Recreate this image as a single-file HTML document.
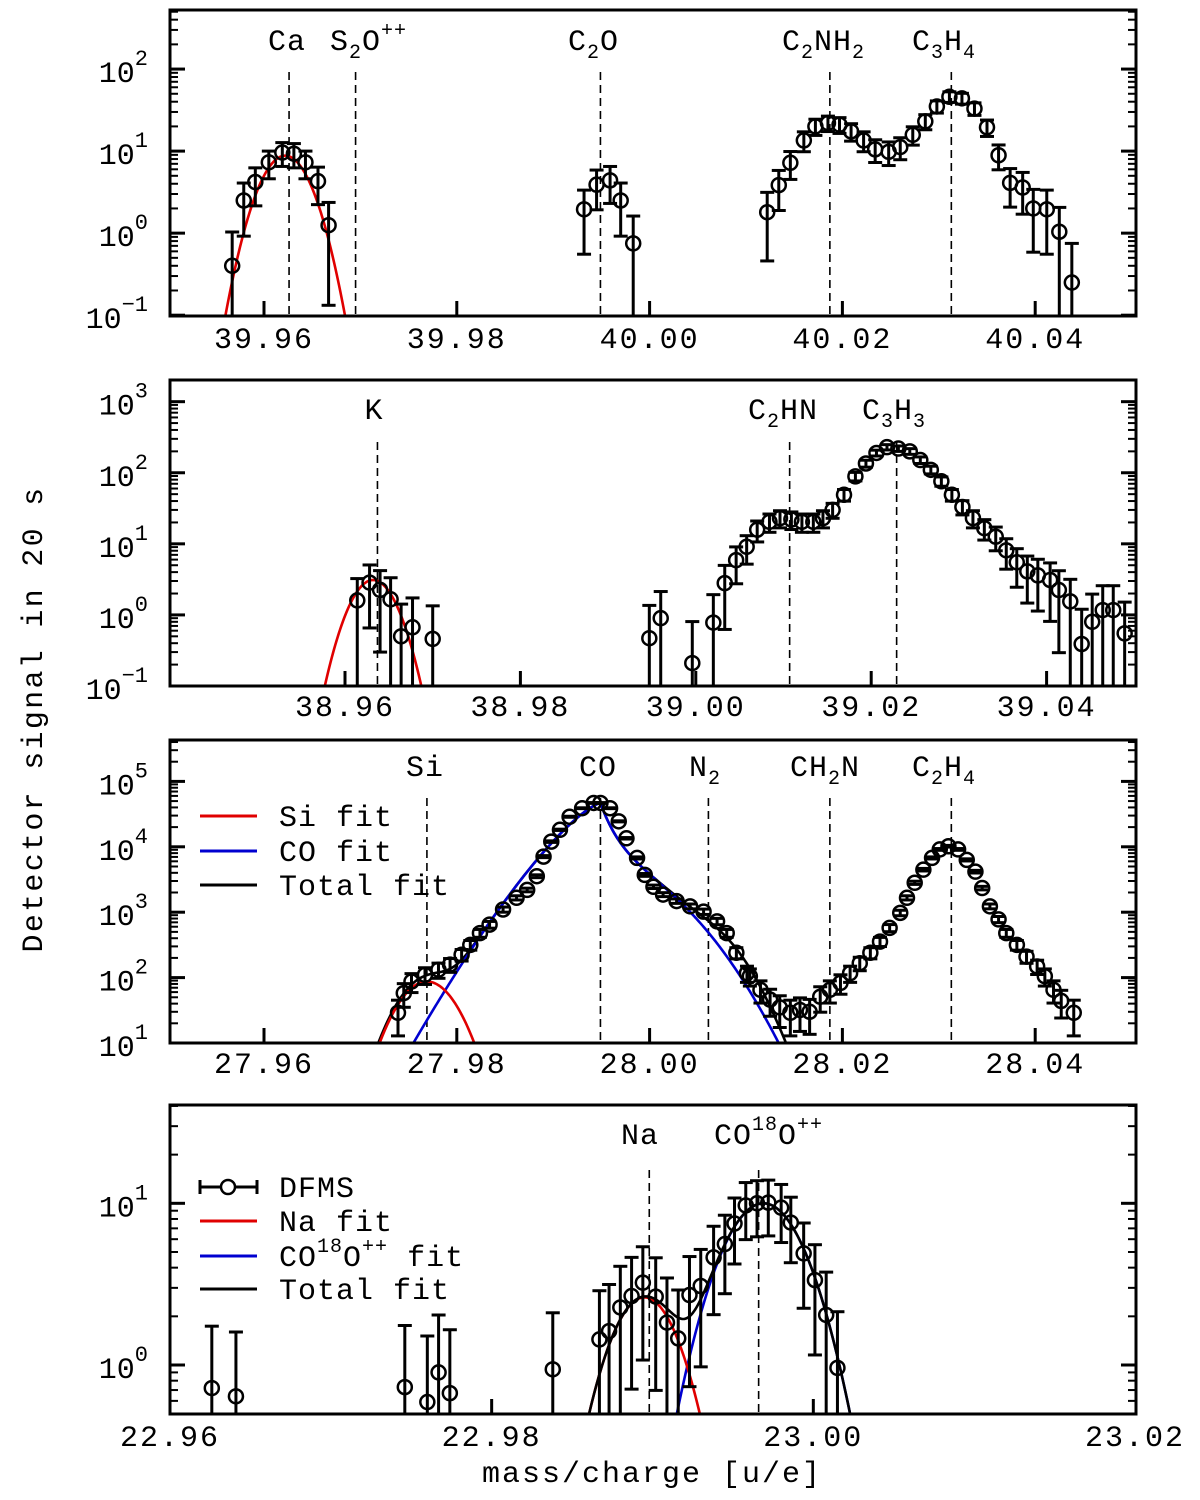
<!DOCTYPE html>
<html>
<head>
<meta charset="utf-8">
<style>
  html,body{margin:0;padding:0;background:#fff;width:1200px;height:1500px;overflow:hidden;}
  svg{display:block;}
  text{font-family:"Liberation Mono","DejaVu Sans Mono",monospace;fill:#000;}
</style>
</head>
<body>
<svg id="chart" width="1200" height="1500" viewBox="0 0 1200 1500" xmlns="http://www.w3.org/2000/svg">
  <defs>
    <clipPath id="clip0"><rect x="170" y="10" width="966" height="306"/></clipPath>
    <clipPath id="clip1"><rect x="170" y="380" width="966" height="306"/></clipPath>
    <clipPath id="clip2"><rect x="170" y="740" width="966" height="303"/></clipPath>
    <clipPath id="clip3"><rect x="170" y="1105" width="966" height="309"/></clipPath>
  </defs>
  <rect x="0" y="0" width="1200" height="1500" fill="#fff"/>
  <g id="layer"></g>

  <text x="32" y="729" transform="rotate(-90 32 719)" text-anchor="middle" font-size="30" letter-spacing="2.3">Detector signal in 20 s</text>
  <text x="652" y="1482" text-anchor="middle" font-size="30" letter-spacing="2">mass/charge [u/e]</text>

  <g font-size="30" letter-spacing="1">
    <text x="287" y="50" text-anchor="middle">Ca</text>
    <text x="330" y="50">S<tspan font-size="20" dy="8">2</tspan><tspan dy="-8">O</tspan><tspan font-size="20" dy="-14">++</tspan></text>
    <text x="568" y="50">C<tspan font-size="20" dy="8">2</tspan><tspan dy="-8">O</tspan></text>
    <text x="782" y="50">C<tspan font-size="20" dy="8">2</tspan><tspan dy="-8">NH</tspan><tspan font-size="20" dy="8">2</tspan></text>
    <text x="912" y="50">C<tspan font-size="20" dy="8">3</tspan><tspan dy="-8">H</tspan><tspan font-size="20" dy="8">4</tspan></text>
  </g>
  <g font-size="30" letter-spacing="1">
    <text x="374" y="419" text-anchor="middle">K</text>
    <text x="748" y="419">C<tspan font-size="20" dy="8">2</tspan><tspan dy="-8">HN</tspan></text>
    <text x="862" y="419">C<tspan font-size="20" dy="8">3</tspan><tspan dy="-8">H</tspan><tspan font-size="20" dy="8">3</tspan></text>
  </g>
  <g font-size="30" letter-spacing="1">
    <text x="425" y="776" text-anchor="middle">Si</text>
    <text x="598" y="776" text-anchor="middle">CO</text>
    <text x="689" y="776">N<tspan font-size="20" dy="8">2</tspan></text>
    <text x="790" y="776">CH<tspan font-size="20" dy="8">2</tspan><tspan dy="-8">N</tspan></text>
    <text x="912" y="776">C<tspan font-size="20" dy="8">2</tspan><tspan dy="-8">H</tspan><tspan font-size="20" dy="8">4</tspan></text>
  </g>
  <g font-size="30" letter-spacing="1">
    <text x="640" y="1144" text-anchor="middle">Na</text>
    <text x="714" y="1144">CO<tspan font-size="20" dy="-14">18</tspan><tspan dy="14">O</tspan><tspan font-size="20" dy="-14">++</tspan></text>
  </g>

  <g font-size="30" letter-spacing="1">
    <line x1="200" y1="816" x2="257" y2="816" stroke="#e00000" stroke-width="3"/>
    <text x="279" y="826">Si fit</text>
    <line x1="200" y1="851" x2="257" y2="851" stroke="#0000d0" stroke-width="3"/>
    <text x="279" y="861">CO fit</text>
    <line x1="200" y1="885" x2="257" y2="885" stroke="#000" stroke-width="3"/>
    <text x="279" y="895">Total fit</text>
  </g>
  <g font-size="30" letter-spacing="1">
    <g stroke="#000" stroke-width="3" fill="none">
      <line x1="200" y1="1187" x2="257" y2="1187"/>
      <line x1="200" y1="1180" x2="200" y2="1194"/>
      <line x1="257" y1="1180" x2="257" y2="1194"/>
      <circle cx="228" cy="1187" r="7" fill="#fff" stroke-width="2.5"/>
    </g>
    <text x="279" y="1197">DFMS</text>
    <line x1="200" y1="1221" x2="257" y2="1221" stroke="#e00000" stroke-width="3"/>
    <text x="279" y="1231">Na fit</text>
    <line x1="200" y1="1256" x2="257" y2="1256" stroke="#0000d0" stroke-width="3"/>
    <text x="279" y="1266">CO<tspan font-size="20" dy="-14">18</tspan><tspan dy="14">O</tspan><tspan font-size="20" dy="-14">++</tspan><tspan dy="14"> fit</tspan></text>
    <line x1="200" y1="1289" x2="257" y2="1289" stroke="#000" stroke-width="3"/>
    <text x="279" y="1299">Total fit</text>
  </g>
</svg>

<script>
// ---------------- DATA ----------------
const p1Mass = [39.9567,39.9579,39.9591,39.9605,39.9619,39.9631,39.9643,39.9656,39.9667,
  39.9932,39.9945,39.9959,39.9970,39.9983,
  40.0122,40.0134,40.0146,40.0160,40.0172,40.0185,40.0197,40.0209,40.0222,40.0234,40.0248,40.0260,40.0273,
  40.0286,40.0298,40.0311,40.0324,40.0337,40.0350,40.0362,40.0374,40.0387,40.0398,40.0412,40.0425,40.0438];
const p1Values = [0.40,2.5,4.2,7.3,9.6,9.3,7.3,4.3,1.25,
  1.95,3.9,4.4,2.5,0.75,
  1.8,3.85,7.2,13.5,20,22,21,17.4,13.5,10.5,9.8,11.2,15.8,
  23,35,46,44,33,19.5,8.9,4.1,3.6,2.0,1.95,1.04,0.25];
const p1Lines = [39.9626,39.9695,39.9949,40.0187,40.0313];
const p1Ticks = [39.96,39.98,40.00,40.02,40.04];
const p1TickLabels = ["39.96","39.98","40.00","40.02","40.04"];
const p1CaFit = [8.8,39.9622,0.00207];

const p2Mass = [38.9614,38.9628,38.9640,38.9652,38.9664,38.9677,38.9700,
  38.9947,38.9960,38.9996,39.0020,39.0033,39.0046,39.0058,39.0070,39.0084,39.0096,39.0109,39.0121,39.0134,
  39.0145,39.0156,39.0169,39.0182,39.0194,39.0206,39.0218,39.0231,39.0244,39.0256,39.0268,39.0280,39.0292,
  39.0304,39.0316,39.0329,39.0342,39.0354,39.0366,39.0378,39.0390,39.0404,39.0414,39.0427,39.0440,39.0452,
  39.0464,39.0476,39.0489];
const p2Values = [1.6,2.85,2.25,1.66,0.5,0.67,0.46,
  0.47,0.9,0.21,0.78,2.8,5.9,9.1,15.8,20.4,23,22,20.4,20.4,
  23,30,49,89,135,190,229,219,200,151,110,76,49,
  33,23,16.6,12.6,8.1,5.5,4.1,3.6,3.1,2.24,1.55,0.39,0.8,
  1.17,1.17,0.55];
const p2Lines = [38.9637,39.0107,39.0229];
const p2Ticks = [38.96,38.98,39.00,39.02,39.04];
const p2TickLabels = ["38.96","38.98","39.00","39.02","39.04"];
const p2KFit = [3.1,38.9632,0.0021];

const p3Mass = [27.9739,27.9745,27.9753,27.9767,27.9781,27.9793,27.9805,27.9814,27.9824,27.9834,27.9848,
  27.9862,27.9873,27.9883,27.9890,27.9898,27.9907,27.9917,27.9930,27.9942,27.9949,27.9959,27.9968,27.9976,
  27.9987,27.9995,28.0004,28.0014,28.0028,28.0042,28.0056,28.0070,28.0080,28.0090,28.0101,28.0104,28.0115,
  28.0125,28.0135,28.0146,28.0156,28.0166,28.0177,28.0187,28.0198,28.0208,28.0218,28.0229,28.0239,28.0249,
  28.0260,28.0267,28.0275,28.0284,28.0293,28.0301,28.0310,28.0320,28.0329,28.0338,28.0345,28.0353,28.0362,
  28.0370,28.0381,28.0391,28.0402,28.0410,28.0419,28.0427,28.0440];
const p3Values = [29,58,87,110,132,158,224,316,479,646,1100,
  1660,2190,3550,7080,12000,18200,28800,38900,46800,46800,38900,24500,13500,
  6760,3720,2450,1860,1480,1230,1020,724,479,240,117,105,65,
  46,35,29,32,30,51,65,83,117,166,240,355,575,
  977,1660,2820,4470,6760,9120,10200,9120,6310,4170,2340,1230,776,
  479,316,209,148,105,65,44,29];
const p3Lines = [27.9769,27.9949,28.0061,28.0187,28.0313];
const p3Ticks = [27.96,27.98,28.00,28.02,28.04];
const p3TickLabels = ["27.96","27.98","28.00","28.02","28.04"];
const p3SiFit = [87,27.9769,0.00236];
// CO fit: amplitude, centre, left coeff, left exponent, right quadratic coeff, right shoulder drop, right shoulder width
const p3COFit = [46800,27.9949,706,1.334,7755,1.02,0.0025];
const p3N2Comp = [250,28.0061,0.0028];

const p4Mass = [22.9626,22.9641,22.9746,22.9760,22.9767,22.9774,22.9838,22.9867,22.9873,22.9880,22.9887,
  22.9894,22.9902,22.9909,22.9916,22.9923,22.9930,22.9938,22.9945,22.9951,22.9958,22.9965,22.9972,22.9980,
  22.9986,22.9994,23.0001,23.0008,23.0015];
const p4Values = [0.72,0.64,0.73,0.59,0.9,0.67,0.94,1.44,1.62,2.27,2.67,
  3.23,2.65,1.83,1.46,2.71,3.08,4.63,5.6,7.5,9.7,10,10.1,9.4,
  7.6,4.9,3.35,2.04,0.96];
const p4Lines = [22.9898,22.9966];
const p4Ticks = [22.96,22.98,23.00,23.02];
const p4TickLabels = ["22.96","22.98","23.00","23.02"];
const p4NaFit = [2.62,22.9895,0.00189];
const p4COFit = [10,22.9969,0.0022];

// ---------------- GEOMETRY ----------------
const panels = [
  {left:170,right:1136,top:10,bottom:316,x0:264,m0:39.96,kx:9640,logMin:-1.01,logMax:2.72,errK:1.0,lineTop:72,labelY:348,decLabels:[-1,0,1,2]},
  {left:170,right:1136,top:380,bottom:686,x0:345,m0:38.96,kx:8770,logMin:-1.0,logMax:3.305,errK:1.3,lineTop:442,labelY:716,decLabels:[-1,0,1,2,3]},
  {left:170,right:1136,top:740,bottom:1043,x0:264,m0:27.96,kx:9640,logMin:1.0,logMax:5.633,errK:3.0,lineTop:798,labelY:1073,decLabels:[1,2,3,4,5]},
  {left:170,right:1136,top:1105,bottom:1414,x0:170,m0:22.96,kx:16083,logMin:-0.303,logMax:1.608,errK:1.2,lineTop:1170,labelY:1446,decLabels:[0,1]}
];

const NS = 'http://www.w3.org/2000/svg';
const layer = document.getElementById('layer');
function mk(tag, attrs, parent){
  const e = document.createElementNS(NS, tag);
  for (const k in attrs) e.setAttribute(k, attrs[k]);
  (parent||layer).appendChild(e);
  return e;
}
function xs(P, m){ return P.x0 + (m - P.m0) * P.kx; }
function ys(P, v){
  if (v <= 0) return P.bottom + 20;
  const l = Math.log10(v);
  return P.bottom - (l - P.logMin) / (P.logMax - P.logMin) * (P.bottom - P.top);
}
function gauss(m, p){ return p[0] * Math.exp(-((m - p[1]) ** 2) / (2 * p[2] * p[2])); }
function coShape(m, p){
  const d = m - p[1];
  let drop;
  if (d < 0) drop = p[2] * Math.pow(-d, p[3]);
  else drop = p[4] * d * d + p[5] * (1 - Math.exp(-d / p[6]));
  return p[0] * Math.pow(10, -drop);
}

function drawAxes(P, idx, ticks, tickLabels){
  const g = mk('g', {});
  
  
  for (let d = Math.floor(P.logMin); d <= Math.ceil(P.logMax); d++){
    for (let k = 1; k <= 9; k++){
      const l = d + Math.log10(k);
      if (l < P.logMin - 1e-6 || l > P.logMax + 1e-6) continue;
      const y = ys(P, Math.pow(10, l));
      const len = k === 1 ? 15 : 8;
      const w = k === 1 ? 3 : 2;
      const t1 = mk('line', {x1:P.left, y1:y, x2:P.left+len, y2:y, stroke:'#000','stroke-width':w}, g);
      
      
      const t2 = mk('line', {x1:P.right, y1:y, x2:P.right-len, y2:y, stroke:'#000','stroke-width':w}, g);
      
      
    }
  }
  P.decLabels.forEach(d => {
    const y = ys(P, Math.pow(10, d));
    const t = mk('text', {x:148, y:y+13, 'text-anchor':'end','font-size':30}, g);
    
    
    const a = mk('tspan', {}, t); a.textContent = '10';
    const b = mk('tspan', {'font-size':22, dy:-17}, t); b.textContent = String(d).replace('-', '\u2212');
  });
  ticks.forEach((m, i) => {
    const x = xs(P, m);
    if (x > P.left + 2 && x < P.right - 2){
      const t = mk('line', {x1:x, y1:P.bottom, x2:x, y2:P.bottom-15, stroke:'#000','stroke-width':3}, g);
      
      
    }
    const lab = mk('text', {x:x, y:P.labelY, 'text-anchor':'middle','font-size':30,'letter-spacing':2}, g);
    
    
    lab.textContent = tickLabels[i];
  });
  const f = mk('rect', {x:P.left, y:P.top, width:P.right-P.left, height:P.bottom-P.top, fill:'none', stroke:'#000','stroke-width':3}, g);
  
  
}

function drawLines(P, idx, lines){
  const g = mk('g', {'clip-path':'url(#clip'+idx+')'});
  
  
  lines.forEach(m => {
    const x = xs(P, m);
    const l = mk('line', {x1:x, y1:P.lineTop, x2:x, y2:P.bottom, stroke:'#000','stroke-width':1.6,'stroke-dasharray':'8,5'}, g);
    
    
  });
}

function drawCurve(P, idx, fn, color, name){
  const mA = P.m0 + (P.left - P.x0) / P.kx;
  const mB = P.m0 + (P.right - P.x0) / P.kx;
  let d = '';
  const N = 800;
  for (let i = 0; i <= N; i++){
    const m = mA + (mB - mA) * i / N;
    const v = fn(m);
    let y = ys(P, v);
    if (y > P.bottom + 8) y = P.bottom + 8;
    d += (i === 0 ? 'M' : 'L') + xs(P, m).toFixed(2) + ',' + y.toFixed(2);
  }
  const p = mk('path', {d:d, fill:'none', stroke:color, 'stroke-width':2.6, 'clip-path':'url(#clip'+idx+')'});
  
  
}

function drawPoints(P, idx, masses, values){
  const g = mk('g', {'clip-path':'url(#clip'+idx+')'});
  
  
  masses.forEach((m, i) => {
    const v = values[i];
    const x = xs(P, m);
    const y = ys(P, v);
    const e = P.errK * Math.sqrt(v);
    const yHi = ys(P, v + e);
    const lowOK = v - e > 0;
    const yLo = lowOK ? Math.min(ys(P, v - e), P.bottom + 5) : P.bottom + 5;
    const bar = mk('line', {x1:x, y1:yHi, x2:x, y2:yLo, stroke:'#000','stroke-width':3}, g);
    
    
    const cap1 = mk('line', {x1:x-7, y1:yHi, x2:x+7, y2:yHi, stroke:'#000','stroke-width':3}, g);
    
    
    if (lowOK && yLo < P.bottom){
      const cap2 = mk('line', {x1:x-7, y1:yLo, x2:x+7, y2:yLo, stroke:'#000','stroke-width':3}, g);
      
      
    }
    const c = mk('circle', {cx:x, cy:y, r:7, fill:'none', stroke:'#000','stroke-width':2.5}, g);
    
    
  });
}

drawLines(panels[0], 0, p1Lines);
drawCurve(panels[0], 0, m => gauss(m, p1CaFit), '#e00000', 'ca-fit-curve');
drawPoints(panels[0], 0, p1Mass, p1Values);
drawAxes(panels[0], 0, p1Ticks, p1TickLabels);

drawLines(panels[1], 1, p2Lines);
drawCurve(panels[1], 1, m => gauss(m, p2KFit), '#e00000', 'k-fit-curve');
drawPoints(panels[1], 1, p2Mass, p2Values);
drawAxes(panels[1], 1, p2Ticks, p2TickLabels);

drawLines(panels[2], 2, p3Lines);
drawCurve(panels[2], 2, m => gauss(m,p3SiFit)+coShape(m,p3COFit)+gauss(m,p3N2Comp), '#000', 'total-fit-curve');
drawCurve(panels[2], 2, m => coShape(m,p3COFit), '#0000d0', 'co-fit-curve');
drawCurve(panels[2], 2, m => gauss(m,p3SiFit), '#e00000', 'si-fit-curve');
drawPoints(panels[2], 2, p3Mass, p3Values);
drawAxes(panels[2], 2, p3Ticks, p3TickLabels);

drawLines(panels[3], 3, p4Lines);
drawCurve(panels[3], 3, m => gauss(m,p4COFit), '#0000d0', 'co18o-fit-curve');
drawCurve(panels[3], 3, m => gauss(m,p4NaFit), '#e00000', 'na-fit-curve');
drawCurve(panels[3], 3, m => gauss(m,p4NaFit)+gauss(m,p4COFit), '#000', 'total-fit-curve-4');
drawPoints(panels[3], 3, p4Mass, p4Values);
drawAxes(panels[3], 3, p4Ticks, p4TickLabels);
</script>
</body>
</html>
